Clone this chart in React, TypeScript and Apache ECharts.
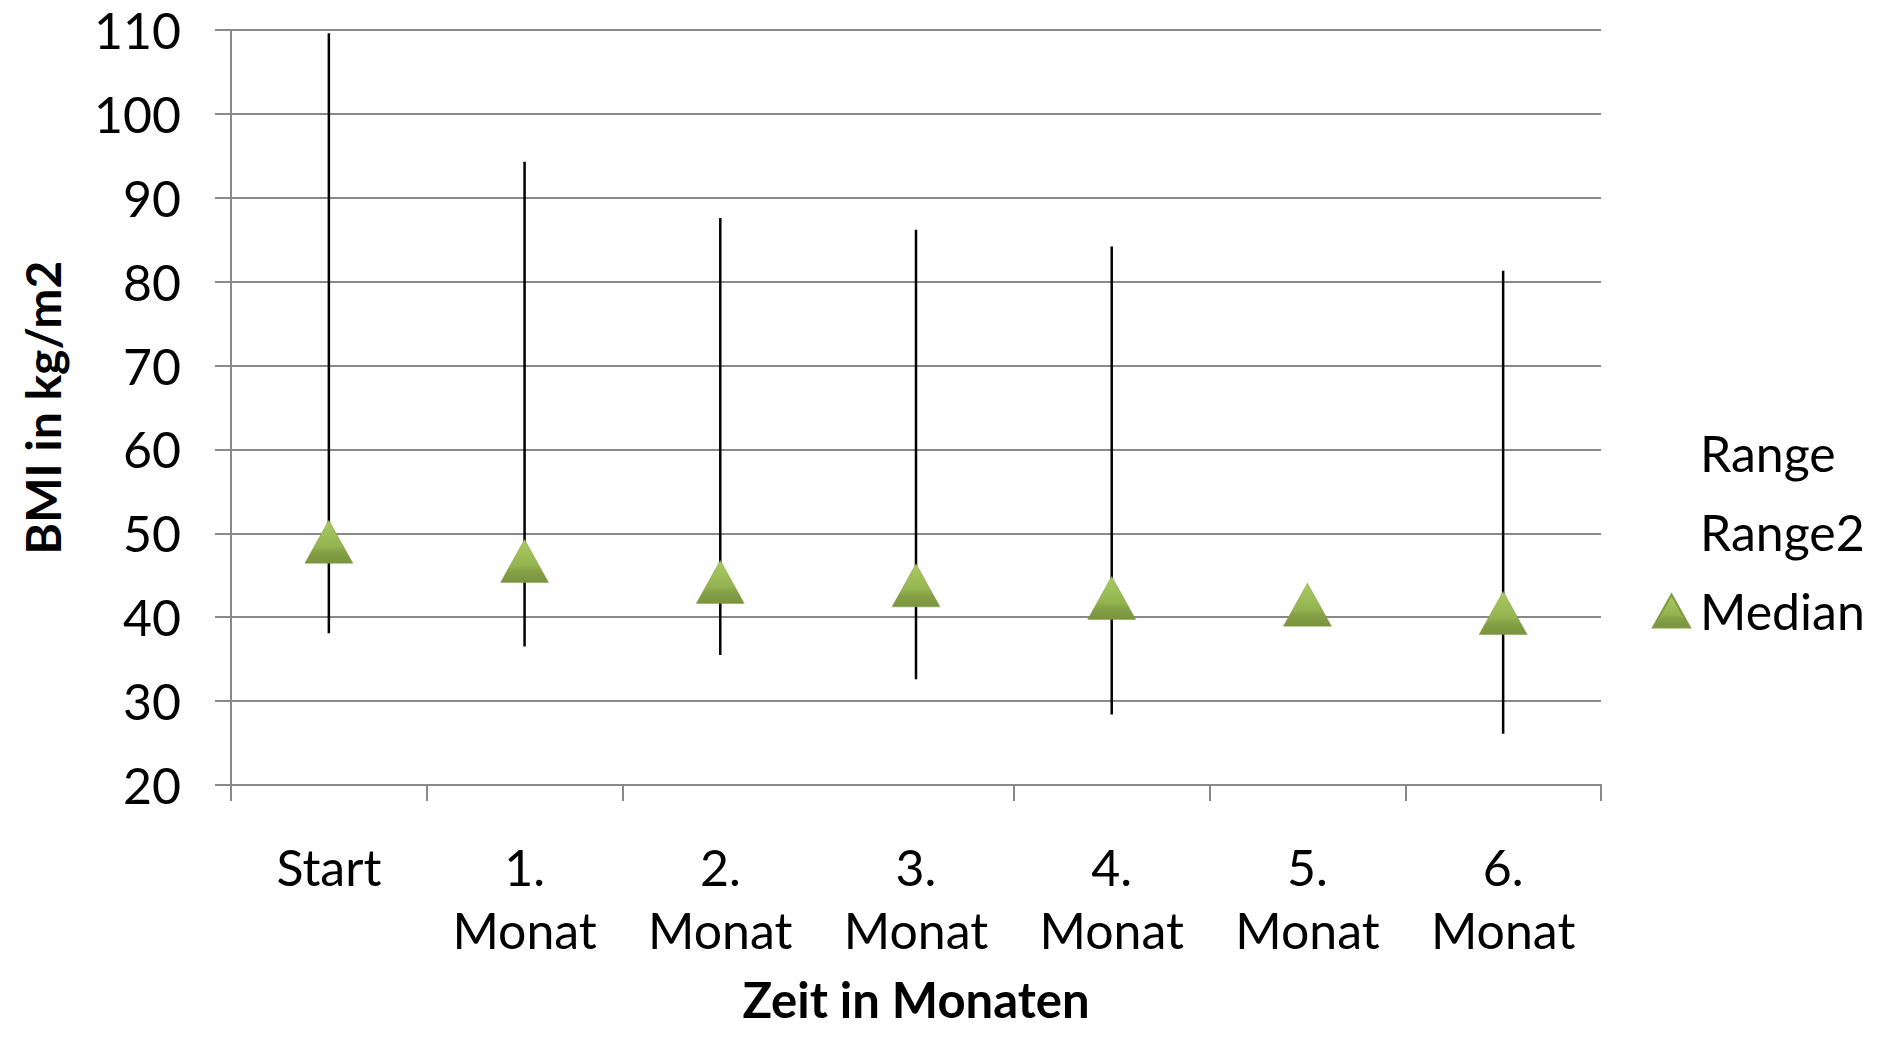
import React, { useEffect, useRef } from "react";
import * as echarts from "echarts";

const categories = ["Start", "1. Monat", "2. Monat", "3. Monat", "4. Monat", "5. Monat", "6. Monat"];
const rangeHigh: (number | null)[] = [109.6, 94.3, 87.6, 86.2, 84.2, null, 81.3];
const rangeLow: (number | null)[] = [38.1, 36.5, 35.5, 32.6, 28.4, null, 26.1];
const median: number[] = [49.0, 46.7, 44.2, 43.8, 42.3, 41.5, 40.5];
const yTicks = { min: 20, max: 110, interval: 10 };

const FONT = "Lato, 'Open Sans', sans-serif";
const GRAY = "#898989";

export default function App() {
  const ref = useRef<HTMLDivElement>(null);
  useEffect(() => {
    document.body.style.margin = "0";
    const chart = echarts.init(ref.current!, null, { renderer: "svg" });
    const hlData = categories
      .map((c, i) => [i, rangeLow[i], rangeHigh[i]])
      .filter((d) => d[1] != null && d[2] != null);
    const triGrad = new echarts.graphic.LinearGradient(0, 0, 0, 1, [
      { offset: 0, color: "#a9ca62" },
      { offset: 0.6, color: "#94b450" },
      { offset: 0.75, color: "#849f45" },
      { offset: 1, color: "#7a943f" },
    ]);
    chart.setOption({
      animation: false,
      backgroundColor: "#ffffff",
      textStyle: { fontFamily: FONT, color: "#000" },
      grid: {
        left: 231,
        right: 289,
        top: 30,
        bottom: 252,
        containLabel: false,
        outerBoundsMode: "none",
      },
      legend: {
        orient: "vertical",
        left: 1647,
        top: 423,
        itemWidth: 37,
        itemHeight: 33,
        itemGap: 29,
        textStyle: { fontFamily: FONT, fontSize: 50, color: "#000", lineHeight: 40, padding: [0, 0, 0, 5] },
        data: [
          { name: "Range", icon: "rect", itemStyle: { opacity: 0 } },
          { name: "Range2", icon: "rect", itemStyle: { opacity: 0 } },
          { name: "Median", icon: "triangle" },
        ],
      },
      xAxis: {
        type: "category",
        data: categories,
        boundaryGap: true,
        name: "Zeit in Monaten",
        nameLocation: "middle",
        nameGap: 189,
        nameTextStyle: { fontFamily: FONT, fontSize: 49, fontWeight: "bold", color: "#000", lineHeight: 50 },
        axisLine: { show: true, lineStyle: { color: GRAY, width: 2 } },
        axisTick: {
          show: true,
          length: 16,
          lineStyle: { color: GRAY, width: 2 },
          interval: (i: number) => i !== 3,
        },
        axisLabel: {
          interval: 0,
          margin: 50,
          fontFamily: FONT,
          fontSize: 50,
          lineHeight: 63,
          color: "#000",
          formatter: (v: string) => v.replace(" ", "\n"),
        },
        splitLine: { show: false },
      },
      yAxis: {
        type: "value",
        min: yTicks.min,
        max: yTicks.max,
        interval: yTicks.interval,
        name: "BMI in kg/m2",
        nameLocation: "middle",
        nameRotate: 90,
        nameGap: 165,
        nameTextStyle: { fontFamily: FONT, fontSize: 48, fontWeight: "bold", color: "#000" },
        axisLine: { show: true, lineStyle: { color: GRAY, width: 2 } },
        axisTick: { show: true, inside: false, length: 16, lineStyle: { color: GRAY, width: 2 } },
        axisLabel: { margin: 50, fontFamily: FONT, fontSize: 50, color: "#000" },
        splitLine: { show: true, lineStyle: { color: GRAY, width: 2 } },
      },
      series: [
        {
          name: "Range",
          type: "line",
          data: rangeHigh,
          symbol: "none",
          lineStyle: { opacity: 0 },
          itemStyle: { color: "rgba(0,0,0,0)" },
          silent: true,
        },
        {
          name: "Range2",
          type: "line",
          data: rangeLow,
          symbol: "none",
          lineStyle: { opacity: 0 },
          itemStyle: { color: "rgba(0,0,0,0)" },
          silent: true,
        },
        {
          name: "HighLow",
          type: "custom",
          data: hlData,
          z: 3,
          renderItem: (params: any, api: any) => {
            const x = api.value(0);
            const p1 = api.coord([x, api.value(1)]);
            const p2 = api.coord([x, api.value(2)]);
            return {
              type: "line",
              shape: { x1: p1[0], y1: p1[1], x2: p2[0], y2: p2[1] },
              style: { stroke: "#000", lineWidth: 2.5 },
            };
          },
        },
        {
          name: "Median",
          type: "line",
          data: median,
          z: 5,
          symbol: "triangle",
          symbolSize: [48, 43],
          lineStyle: { opacity: 0 },
          itemStyle: { color: triGrad, borderColor: "#7f9a43", borderWidth: 0.5 },
        },
      ],
    });
    return () => chart.dispose();
  }, []);
  return <div ref={ref} style={{ width: 1890, height: 1037 }} />;
}
